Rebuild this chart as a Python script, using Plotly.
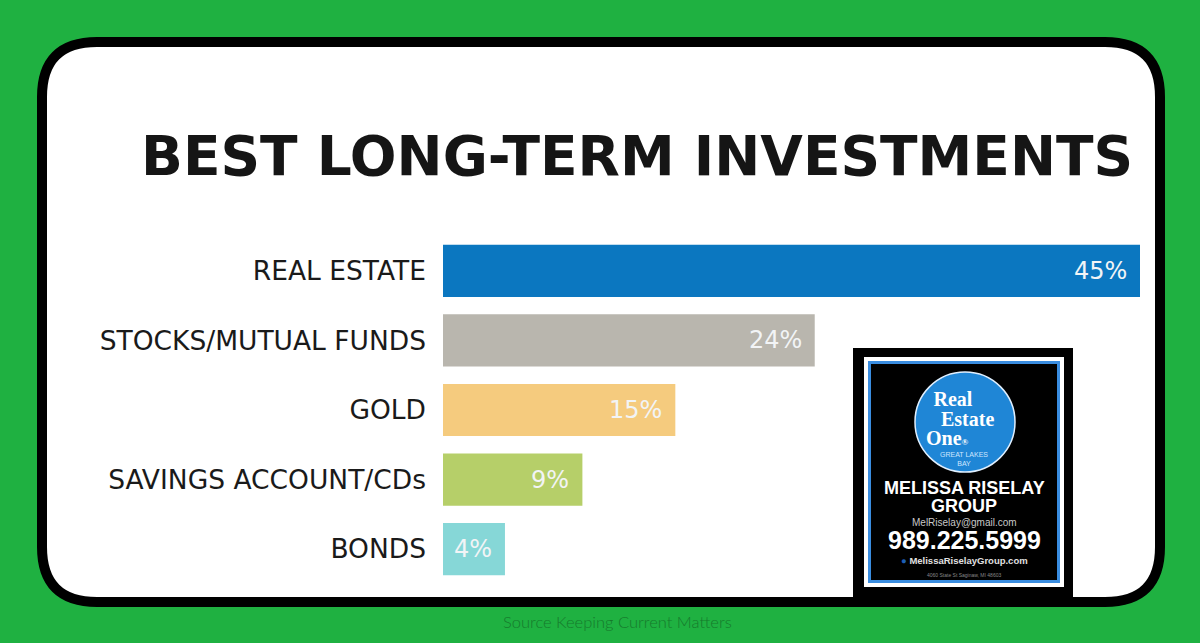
import plotly.graph_objects as go

# ---- data ----
categories = ["REAL ESTATE", "STOCKS/MUTUAL FUNDS", "GOLD", "SAVINGS ACCOUNT/CDs", "BONDS"]
values = [45, 24, 15, 9, 4]
bar_colors = ["#0b77c0", "#b9b6ae", "#f5cb7e", "#b6cf69", "#86d7d7"]
title_text = "BEST LONG-TERM INVESTMENTS"
source_text = "Source Keeping Current Matters"

W, H = 1200, 643
def px(x):
    return x / W
def py(y):
    return 1 - y / H

def rounded_rect(x0, y0, x1, y1, r):
    pts = [
        f"M {px(x0 + r)},{py(y0)}",
        f"L {px(x1 - r)},{py(y0)}",
        f"Q {px(x1)},{py(y0)} {px(x1)},{py(y0 + r)}",
        f"L {px(x1)},{py(y1 - r)}",
        f"Q {px(x1)},{py(y1)} {px(x1 - r)},{py(y1)}",
        f"L {px(x0 + r)},{py(y1)}",
        f"Q {px(x0)},{py(y1)} {px(x0)},{py(y1 - r)}",
        f"L {px(x0)},{py(y0 + r)}",
        f"Q {px(x0)},{py(y0)} {px(x0 + r)},{py(y0)}",
        "Z",
    ]
    return " ".join(pts)

fig = go.Figure()
fig.add_trace(go.Bar(
    x=values, y=categories, orientation="h",
    marker=dict(color=bar_colors, line=dict(width=0)),
    hoverinfo="skip", showlegend=False,
))

shapes = []
# white card with black frame
shapes.append(dict(type="path", xref="paper", yref="paper", layer="below",
                   path=rounded_rect(42, 42, 1160, 602, 55),
                   fillcolor="white", line=dict(color="black", width=10)))

def rect(x0, y0, x1, y1, color, layer="above"):
    return dict(type="rect", xref="paper", yref="paper", layer=layer,
                x0=px(x0), x1=px(x1), y0=py(y1), y1=py(y0),
                fillcolor=color, line=dict(width=0))

# logo card
shapes.append(rect(853, 348, 1073, 600, "black"))
shapes.append(rect(864, 357, 1064, 587, "white"))
shapes.append(rect(868, 361, 1060, 583, "#3a8de0"))
shapes.append(rect(871, 364, 1057, 580, "black"))
shapes.append(dict(type="circle", xref="paper", yref="paper",
                   x0=px(915), x1=px(1015), y0=py(472), y1=py(372),
                   fillcolor="#1f86d6", line=dict(color="#dfefff", width=1.5)))

annotations = []
# title
annotations.append(dict(text=title_text, x=px(637), y=py(156), xref="paper", yref="paper",
                        showarrow=False, xanchor="center", yanchor="middle",
                        font=dict(family="DejaVu Sans", size=55, color="#151515", weight=700)))
# value labels
for c, v in zip(categories, values):
    annotations.append(dict(text=f"{v}%", x=v, y=c, xref="x", yref="y",
                            showarrow=False, xanchor="right", yanchor="middle", xshift=-11,
                            font=dict(family="DejaVu Sans", size=24, color="#f2f4f6")))
# source
annotations.append(dict(text=source_text, x=px(617), y=py(622), xref="paper", yref="paper",
                        showarrow=False, xanchor="center", yanchor="middle",
                        font=dict(family="Lato", size=16.5, color="#167a2c", weight=300)))

def note(text, x, y, size, color="white", family="Liberation Sans", weight=400,
         anchor="center", align="center"):
    annotations.append(dict(text=text, x=px(x), y=py(y), xref="paper", yref="paper",
                            showarrow=False, xanchor=anchor, yanchor="middle", align=align,
                            font=dict(family=family, size=size, color=color, weight=weight)))

big = "<span style='font-size:20px'>%s</span>"
logo_words = "<br>".join([
    "&nbsp;&nbsp;" + big % "Real",
    "&nbsp;&nbsp;&nbsp;&nbsp;" + big % "Estate",
    big % "One" + "<span style='font-size:9px'>®</span>",
])
note(logo_words, 924, 418, 15, family="Liberation Serif", weight=700, anchor="left", align="left")
note("GREAT LAKES<br>BAY", 964, 459, 7, color="#cfe6ff")
note("MELISSA RISELAY", 964, 488, 18, weight=700)
note("GROUP", 964, 506, 18, weight=700)
note("MelRiselay@gmail.com", 964, 522, 10, color="#c8c8c8")
note("989.225.5999", 964, 540, 25, weight=700)
note("<span style='color:#1d5fb5'>●</span> MelissaRiselayGroup.com", 964, 560, 9.5, color="#e0e0e0", weight=700)
note("4060 State St Saginaw, MI 48603", 964, 575, 5, color="#888888")

fig.update_layout(
    width=W, height=H,
    margin=dict(l=0, r=0, t=0, b=0),
    paper_bgcolor="#1fb141",
    plot_bgcolor="rgba(0,0,0,0)",
    bargap=0.25,
    shapes=shapes,
    annotations=annotations,
    xaxis=dict(range=[0, 45], domain=[px(443), px(1140)], visible=False, fixedrange=True),
    yaxis=dict(domain=[py(584), py(236)], autorange="reversed", showgrid=False,
               zeroline=False, showline=False, ticks="", ticklabelstandoff=16,
               tickfont=dict(family="DejaVu Sans", size=26.5, color="#1a1a1a"),
               fixedrange=True),
)

fig.write_html("out.html", config={"displayModeBar": False, "staticPlot": True},
               post_script="document.body.style.margin='0';document.body.style.overflow='hidden';")
